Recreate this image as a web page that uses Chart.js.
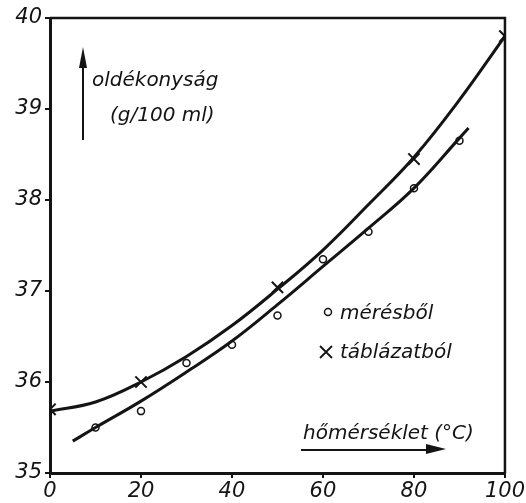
<!DOCTYPE html>
<html>
<head>
<meta charset="utf-8">
<script src="https://cdn.jsdelivr.net/npm/chart.js@4.4.1/dist/chart.umd.min.js"></script>
<style>
  html, body { margin: 0; padding: 0; background: #fff; }
  #wrap { width: 526px; height: 503px; }
</style>
</head>
<body>
<div id="wrap"><canvas id="chart" width="526" height="503"></canvas></div>
<script>
// measured points (circles) - "mérésből"
const measT = [10, 20, 30, 40, 50, 60, 70, 80, 90];
const measS = [35.5, 35.68, 36.21, 36.41, 36.73, 37.35, 37.65, 38.13, 38.65];

// table values (crosses) - "táblázatból"
const tableT = [0, 20, 50, 80, 100];
const tableS = [35.7, 36.0, 37.04, 38.45, 39.8];

// hand drawn curves
const upperCurveT = [0, 10, 20, 30, 40, 50, 60, 70, 80, 90, 100];
const upperCurveS = [35.68, 35.78, 36.0, 36.28, 36.62, 37.02, 37.45, 37.95, 38.47, 39.1, 39.8];
const lowerCurveT = [5, 10, 20, 30, 40, 50, 60, 70, 80, 90, 92];
const lowerCurveS = [35.35, 35.5, 35.79, 36.11, 36.45, 36.85, 37.27, 37.69, 38.13, 38.68, 38.79];

const xTicks = [0, 20, 40, 60, 80, 100];
const yTicks = [35, 36, 37, 38, 39, 40];

const INK = '#141414';
const FAMILY = '"DejaVu Sans", "Liberation Sans", sans-serif';
const FONT = 'oblique 20px ' + FAMILY;

function toPoints(xs, ys) {
  return xs.map((x, i) => ({ x: x, y: ys[i] }));
}

// frame (top/right) plus the hand lettering
const annotations = {
  id: 'annotations',
  afterDraw(chart) {
    const { ctx, chartArea } = chart;
    ctx.save();
    ctx.strokeStyle = INK;
    ctx.lineWidth = 2.5;
    ctx.beginPath();
    ctx.moveTo(chartArea.left, chartArea.top);
    ctx.lineTo(chartArea.right, chartArea.top);
    ctx.lineTo(chartArea.right, chartArea.bottom);
    ctx.stroke();

    ctx.fillStyle = INK;
    ctx.font = FONT;
    ctx.textBaseline = 'alphabetic';
    ctx.textAlign = 'left';
    ctx.fillText('oldékonyság', 92, 86, 138);
    ctx.fillText('(g/100 ml)', 110, 121, 108);
    ctx.fillText('mérésből', 340, 319, 104);
    ctx.fillText('táblázatból', 340, 358, 122);
    ctx.fillText('hőmérséklet (°C)', 303, 439, 192);

    // up arrow next to y label
    ctx.lineWidth = 2;
    ctx.beginPath();
    ctx.moveTo(83, 140);
    ctx.lineTo(83, 60);
    ctx.stroke();
    ctx.beginPath();
    ctx.moveTo(83, 47);
    ctx.lineTo(79, 68);
    ctx.lineTo(87, 68);
    ctx.closePath();
    ctx.fill();

    // right arrow under x label
    ctx.beginPath();
    ctx.moveTo(301, 450);
    ctx.lineTo(432, 450);
    ctx.stroke();
    ctx.beginPath();
    ctx.moveTo(446, 449);
    ctx.lineTo(426, 444);
    ctx.lineTo(426, 454);
    ctx.closePath();
    ctx.fill();

    // legend symbols
    ctx.lineWidth = 1.5;
    ctx.beginPath();
    ctx.arc(328, 312, 3.5, 0, Math.PI * 2);
    ctx.stroke();
    ctx.lineWidth = 1.8;
    ctx.beginPath();
    ctx.moveTo(320, 346);
    ctx.lineTo(332, 358);
    ctx.moveTo(332, 346);
    ctx.lineTo(320, 358);
    ctx.stroke();
    ctx.restore();
  }
};

new Chart(document.getElementById('chart'), {
  type: 'scatter',
  data: {
    datasets: [
      {
        label: 'upper curve',
        data: toPoints(upperCurveT, upperCurveS),
        showLine: true,
        borderColor: INK,
        borderWidth: 3,
        pointRadius: 0,
        tension: 0.4
      },
      {
        label: 'lower curve',
        data: toPoints(lowerCurveT, lowerCurveS),
        showLine: true,
        borderColor: INK,
        borderWidth: 3,
        pointRadius: 0,
        tension: 0.4
      },
      {
        label: 'táblázatból',
        data: toPoints(tableT, tableS),
        pointStyle: 'crossRot',
        pointRadius: 8,
        borderColor: INK,
        borderWidth: 2
      },
      {
        label: 'mérésből',
        data: toPoints(measT, measS),
        pointStyle: 'circle',
        pointRadius: 3.5,
        backgroundColor: '#fff',
        borderColor: INK,
        borderWidth: 1.5
      }
    ]
  },
  options: {
    responsive: false,
    animation: false,
    layout: { padding: { left: 0, right: 17, top: 18, bottom: 0 } },
    plugins: {
      legend: { display: false },
      tooltip: { enabled: false }
    },
    scales: {
      x: {
        type: 'linear',
        min: 0,
        max: 100,
        afterFit: scale => { scale.height = 30; },
        afterBuildTicks: scale => { scale.ticks = xTicks.map(v => ({ value: v })); },
        border: { color: INK, width: 3 },
        grid: { drawOnChartArea: false, tickLength: 5, color: INK, lineWidth: 2 },
        ticks: { color: INK, padding: 1, font: { family: FAMILY, size: 21, style: 'oblique' } }
      },
      y: {
        type: 'linear',
        min: 35,
        max: 40,
        afterFit: scale => { scale.width = 50; },
        afterBuildTicks: scale => { scale.ticks = yTicks.map(v => ({ value: v })); },
        border: { color: INK, width: 3 },
        grid: { drawOnChartArea: false, tickLength: 5, color: INK, lineWidth: 2 },
        ticks: { color: INK, padding: 3, font: { family: FAMILY, size: 21, style: 'oblique' } }
      }
    }
  },
  plugins: [annotations]
});
</script>
</body>
</html>
